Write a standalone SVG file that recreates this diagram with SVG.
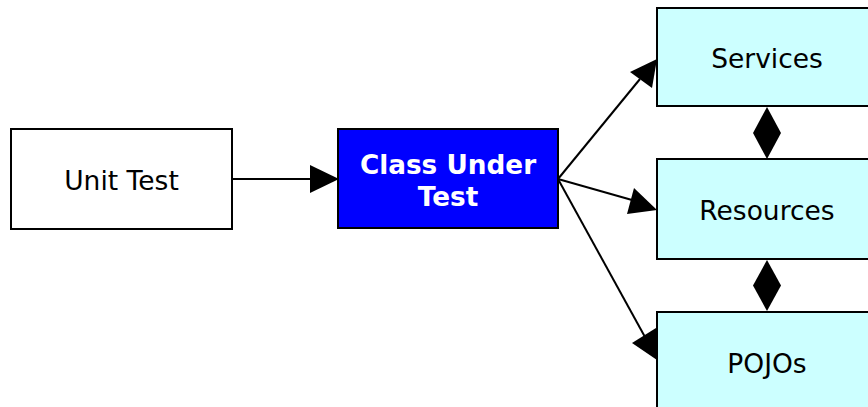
<svg xmlns="http://www.w3.org/2000/svg" width="868" height="407" viewBox="0 0 868 407">
  <style>
    .box { stroke: #000; stroke-width: 2; }
    .plain { fill: #fff; }
    .cut { fill: #0000ff; }
    .dep { fill: #ccffff; }
    .label { font-family: "DejaVu Sans", Verdana, sans-serif; font-size: 26.5px; text-anchor: middle; fill: #000; }
    .strong { font-weight: bold; font-size: 26.3px; fill: #fff; }
    .line { stroke: #000; stroke-width: 2; fill: none; }
    .head { fill: #000; }
  </style>
  <rect width="868" height="407" fill="#fff"/>

  <g id="connectors">
    <!-- Unit Test -> Class Under Test -->
    <line class="line" x1="232" y1="179" x2="312" y2="179"/>
    <polygon class="head" points="339,179 310,165 310,193"/>
    <!-- Class Under Test -> Services -->
    <line class="line" x1="558" y1="179" x2="640" y2="79"/>
    <polygon class="head" points="657,59 630,72 652,88"/>
    <!-- Class Under Test -> Resources -->
    <line class="line" x1="558" y1="179" x2="632" y2="200"/>
    <polygon class="head" points="657,210 634,188 627,214"/>
    <!-- Class Under Test -> POJOs -->
    <line class="line" x1="558" y1="179" x2="645" y2="337"/>
    <polygon class="head" points="657,360 632,343 656,328"/>
    <!-- Services <-> Resources -->
    <polygon class="head" points="767,107 781,133 767,159 753,133"/>
    <!-- Resources <-> POJOs -->
    <polygon class="head" points="767,260 781,285.5 767,311 753,285.5"/>
  </g>

  <g id="unit-test">
    <rect class="box plain" x="11" y="129" width="221" height="100"/>
    <text class="label" x="121.5" y="190">Unit Test</text>
  </g>

  <g id="class-under-test">
    <rect class="box cut" x="338" y="129" width="220" height="99"/>
    <text class="label strong" x="448" y="174">Class Under</text>
    <text class="label strong" x="448" y="206">Test</text>
  </g>

  <g id="services">
    <rect class="box dep" x="657" y="8" width="220" height="98"/>
    <text class="label" x="767" y="67.5">Services</text>
  </g>

  <g id="resources">
    <rect class="box dep" x="657" y="159" width="220" height="100"/>
    <text class="label" x="767" y="220">Resources</text>
  </g>

  <g id="pojos">
    <rect class="box dep" x="657" y="312" width="220" height="100"/>
    <text class="label" x="767" y="373">POJOs</text>
  </g>
</svg>
